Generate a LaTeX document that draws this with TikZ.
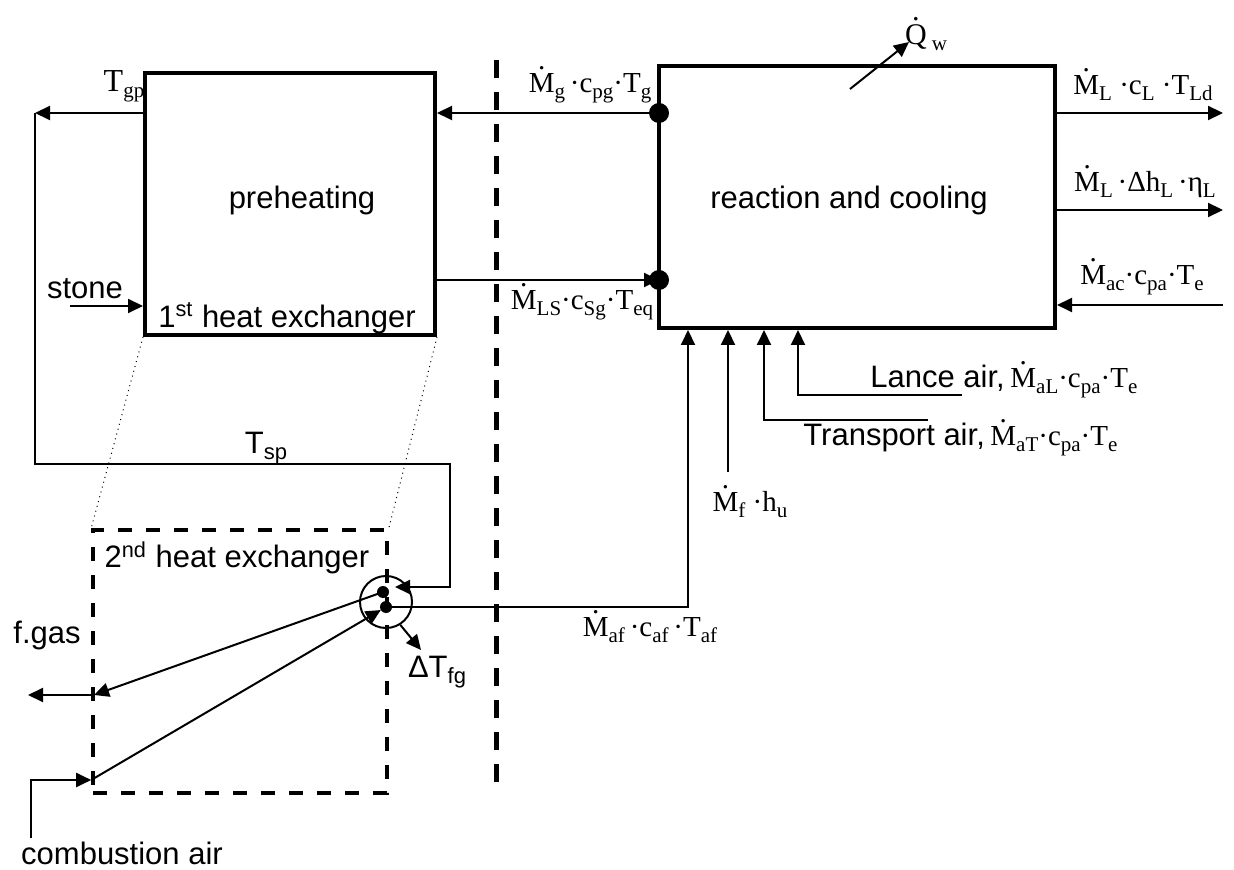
\documentclass[tikz,border=0pt]{standalone}
\usepackage{fontspec}
\setmainfont{Liberation Sans}
\newfontfamily\tms{Liberation Serif}
\usetikzlibrary{arrows.meta}
\newcommand\ovd[1]{\ooalign{#1\cr\hidewidth\raisebox{0.8em}{.}\hidewidth\cr}}
\newcommand\Md{\ovd{M}}
\newcommand\sbs[1]{\raisebox{-3pt}{\fontsize{10.5}{10.5}\selectfont #1}}
\newcommand\sbl[1]{\raisebox{-3pt}{\fontsize{11}{11}\selectfont #1}}
\newcommand\sd{\textperiodcentered}
\begin{document}
\begin{tikzpicture}[x=0.5pt,y=-0.5pt,
  every node/.style={inner sep=0pt},
  blk/.style={draw, line width=2pt, rectangle},
  hxbox/.style={draw, line width=1.8pt, dash pattern=on 7pt off 7pt},
  sepline/.style={line width=2.5pt, dash pattern=on 9pt off 7pt},
  arr/.style={line width=1pt, -{Triangle[length=7.5pt,width=7pt]}},
  bigdot/.style={circle, fill, minimum size=10pt},
  smalldot/.style={circle, fill, minimum size=6pt},
  sans/.style={font=\fontsize{15.5}{16}\selectfont},
  mth/.style={font=\tms\fontsize{14.5}{15}\selectfont},
  bigmth/.style={font=\tms\fontsize{16}{16}\selectfont},
]
\useasboundingbox (0,0) rectangle (1234,870);

% blocks
\node[blk, minimum width=145pt, minimum height=131pt] (pre) at (290,204) {};
\node[blk, minimum width=198pt, minimum height=131pt] (rc) at (857,197) {};
\node[hxbox, minimum width=147pt, minimum height=131.5pt] (hx2) at (240,661.5) {};
\node[draw, circle, line width=1pt, minimum size=26pt] (mix) at (386,602) {};

% dots
\node[bigdot] (d1) at (659,113) {};
\node[bigdot] (d2) at (659,280) {};
\node[smalldot] (d3) at (383,592) {};
\node[smalldot] (d4) at (386,607) {};

% coordinates
\coordinate (tgp) at (35,113);
\coordinate (tl) at (35,464);
\coordinate (tr) at (450,464);
\coordinate (tb) at (450,587);
\coordinate (tin) at (395,587);
\coordinate (stin) at (70,306);
\coordinate (qs) at (850,89);
\coordinate (qe) at (909,42);
\coordinate (o1) at (1223,113);
\coordinate (o2) at (1223,210);
\coordinate (i3) at (1223,305);
\coordinate (af) at (688,607);
\coordinate (mf) at (728,472);
\coordinate (ta1) at (928,420);
\coordinate (ta2) at (764,420);
\coordinate (la1) at (962,395);
\coordinate (la2) at (798,395);
\coordinate (ca1) at (31,838);
\coordinate (ca2) at (31,780);
\coordinate (fgx) at (94,695);
\coordinate (fgo) at (28,695);
\coordinate (dtf) at (421,650);
\coordinate (sept) at (496,60);
\coordinate (sepb) at (496,795);

% separator
\draw[sepline] (sept) -- (sepb);

% dotted projection
\draw[dotted, line width=0.5pt] (pre.south west) -- (hx2.north west);
\draw[dotted, line width=0.5pt] (pre.south east) -- (hx2.north east);

% connectors
\draw[arr] (pre.west |- tgp) -- (tgp);
\draw[arr] (tgp) -- (tl) -- (tr) -- (tb) -- (tin);
\draw[arr] (stin) -- (stin -| pre.west);
\draw[arr] (d1.center) -- (d1 -| pre.east);
\draw[arr] (d2 -| pre.east) -- (d2.center);
\draw[arr] (qs) -- (qe);
\draw[arr] (o1 -| rc.east) -- (o1);
\draw[arr] (o2 -| rc.east) -- (o2);
\draw[arr] (i3) -- (i3 -| rc.east);
\draw[arr] (d4.center) -- (af) -- (af |- rc.south);
\draw[arr] (mf) -- (mf |- rc.south);
\draw[arr] (ta1) -- (ta2) -- (ta2 |- rc.south);
\draw[arr] (la1) -- (la2) -- (la2 |- rc.south);
\draw[arr] (ca1) -- (ca2) -- (ca2 -| hx2.west);
\draw[arr, shorten >=3pt] (ca2 -| hx2.west) -- (d4.center);
\draw[arr] (d3.center) -- (fgx);
\draw[arr] (fgx) -- (fgo);
\draw[arr] (mix.-58) -- (dtf);

% texts
\node[sans] (tpre) at (302,200) {preheating};
\node[sans] (trc) at (849,200) {reaction and cooling};
\node[sans] (thx1) at (287,318) {1\textsuperscript{st} heat exchanger};
\node[sans] (thx2) at (237,558) {2\textsuperscript{nd} heat exchanger};
\node[sans] (tstone) at (85,289) {stone};
\node[sans] (tfgas) at (47,635) {f.gas};
\node[sans] (tca) at (122,853) {combustion air};
\node[sans] (ttsp) at (266,448) {T\sbl{sp}};
\node[sans] (tdt) at (437,672) {ΔT\sbl{fg}};

\node[bigmth] (ltgp) at (124,86) {T\sbs{gp}};
\node[mth] (lmg) at (590,88) {\Md\sbs{g}\,\sd c\sbs{pg}\sd T\sbs{g}};
\node[mth] (lmls) at (582,305) {\Md\sbs{LS}\sd c\sbs{Sg}\sd T\sbs{eq}};
\node[mth, font=\tms\fontsize{15}{15}\selectfont] (lq) at (926,38) {\ovd{Q}\,\sbs{w}};
\node[mth] (lml1) at (1143,88) {\Md\sbs{L}\ \sd c\sbs{L}\ \sd T\sbs{Ld}};
\node[mth] (lml2) at (1145,185) {\Md\sbs{L}\,\sd Δh\sbs{L}\,\sd η\sbs{L}};
\node[mth] (lmac) at (1142,280) {\Md\sbs{ac}\sd c\sbs{pa}\sd T\sbs{e}};
\node[mth] (lmf) at (750,505) {\Md\sbs{f}\ \sd h\sbs{u}};
\node[mth] (lmaf) at (650,630) {\Md\sbs{af}\,\sd c\sbs{af}\,\sd T\sbs{af}};
\node[anchor=west] (llance) at (870,382) {{\fontsize{15.5}{16}\selectfont Lance air,}\ {\tms\fontsize{14.5}{15}\selectfont\Md\sbs{aL}\sd c\sbs{pa}\sd T\sbs{e}}};
\node[anchor=west] (ltrans) at (803,440) {{\fontsize{15.5}{16}\selectfont Transport air,}\ {\tms\fontsize{14.5}{15}\selectfont\Md\sbs{aT}\sd c\sbs{pa}\sd T\sbs{e}}};
\end{tikzpicture}
\end{document}
